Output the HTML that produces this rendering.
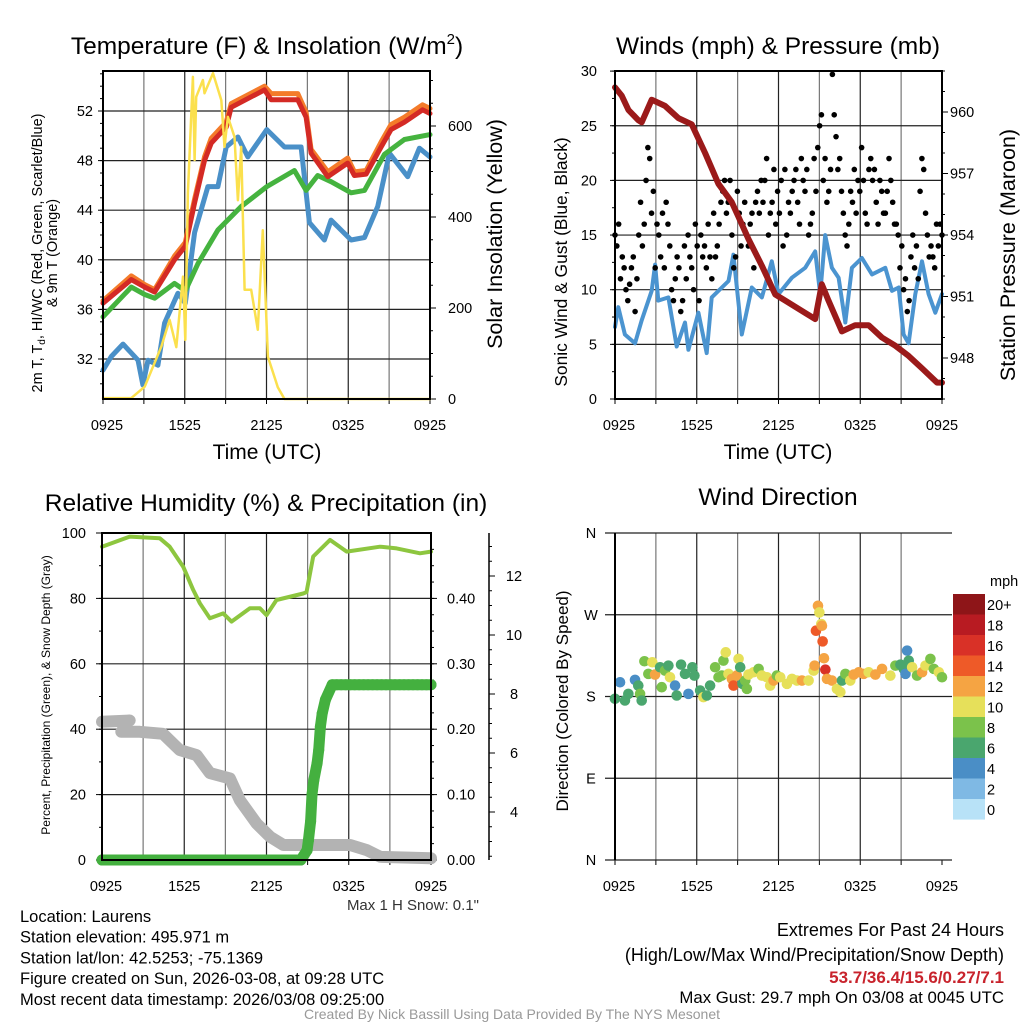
<!DOCTYPE html>
<html><head><meta charset="utf-8"><style>
html,body{margin:0;padding:0;background:#fff;}
svg{display:block;font-family:"Liberation Sans",Arial,sans-serif;}
</style></head><body>
<svg id="c" width="1024" height="1024" viewBox="0 0 1024 1024" xmlns="http://www.w3.org/2000/svg"></svg>
<script>
// ---------- DATA ----------
const xTickLabels = ["0925","1525","2125","0325","0925"];
// Panel 1: temperature (F) & insolation
const tTimes = [0,2.08,3.06,3.79,5.25,6.04,6.72,7.45,7.94,9.04,9.41,11.85,12.34,14.3,14.91,15.27,16.5,17.96,18.45,19.31,20.41,21.14,22.12,23.46,24];
const tempVals = [36.5,38.4,37.8,37.4,40,41.1,44.6,48,49.4,50.7,52.3,53.7,52.9,52.9,51.5,48.6,46.7,47.8,46.8,46.9,49.1,50.5,51.1,52.1,51.8];
const temp9Vals = [36.7,38.7,38.0,37.6,40.3,41.4,44.9,48.3,49.8,51.1,52.6,54.0,53.4,53.4,51.9,48.9,47.1,48.2,47.1,47.2,49.5,50.9,51.5,52.5,52.2];
const dTimes = [0,2.08,3.06,3.79,5.25,6.04,6.97,8.43,10.14,12.02,14.05,14.91,15.76,16.74,18.21,19.19,20.65,22.12,24];
const dewVals = [35.4,37.8,37.2,36.9,38.1,37.5,39.7,42.4,44.3,45.9,47.2,45.6,46.8,46.3,45.4,45.6,48.5,49.7,50.1];
const wcTimes = [0,0.61,1.47,2.57,2.93,3.3,4.03,4.52,5.5,6.04,6.72,7.7,8.43,9.04,9.9,10.63,12.02,13.32,14.54,15.15,16.25,16.74,18.21,19.19,20.16,21.02,22.36,23.22,24];
const wcVals = [31.1,32.2,33.2,31.9,29.9,31.9,31.5,34.9,37.3,36.5,42.2,45.9,45.9,49.1,49.9,48.3,50.5,49.1,49.1,43.0,41.6,43.2,41.6,41.8,44.3,48.6,46.7,49,48.3];
const solTimes = [0,2.08,3.06,4.28,4.89,5.38,5.87,6.04,6.23,6.6,6.72,6.84,7.33,7.45,8.07,8.68,8.92,9.17,9.65,9.9,10.14,10.39,10.88,11.36,11.73,12.1,12.83,13.32,24];
const solVals = [2,2,27,115,174,114,269,130,453,708,525,664,701,672,716,657,554,620,576,437,554,240,240,152,371,93,26,0,0];
// Panel 2: winds & pressure
const pTimes = [0,0.49,0.98,1.71,1.96,2.69,3.67,4.65,5.63,6.61,7.59,8.57,9.06,9.8,10.78,11.76,12.49,13.96,14.69,15.18,15.67,16.65,17.63,18.61,19.59,20.57,21.55,22.53,23.63,24];
const presVals = [961.2,960.8,960.1,959.6,959.5,960.6,960.3,959.7,959.4,958,956.5,955.6,954.9,953.8,952.5,951.1,950.8,950.2,949.9,951.6,950.8,949.3,949.6,949.6,949,948.6,948.1,947.5,946.8,946.8];
const wTimes = [0,0.24,0.73,1.47,1.96,2.69,2.94,3.18,3.92,4.53,5.14,5.39,6.12,6.73,7.1,8.33,8.69,9.31,10.04,10.78,11.51,12,12.98,13.96,14.69,15.06,15.43,15.92,16.41,16.9,17.39,18.12,18.86,19.84,20.33,20.82,21.18,21.55,22.04,22.53,23.02,23.51,24];
const windVals = [6.6,8.4,5.9,5.1,7.2,9.9,12.3,9.0,9.3,4.8,7.0,4.5,7.9,4.2,9.3,10.8,13.2,5.9,10.2,9.3,12.6,9.6,11.1,12.0,13.5,9.6,15.0,12.0,11.1,7.0,12.0,12.9,11.4,12.0,9.9,10.2,5.9,5.1,9.6,12.6,9.6,7.9,9.6];
const gustVals = [15,14,16,11,13,12,10,9,10.5,12,13,8,11,15,18,14,16,20,23,22,17,19,12,16,15,13,17,12,18,16,14,10,9,11,13,12,8,9,14,11,15,13,12,10,16,14,9,15,13,14,12,16,13,11,17,13,14,16,18,19,20,17,18,20,15,12,13,19,17,14,16,18,15,14,16,17,12,18,19,17,20,18,20,22,15,17,18,21,16,19,17,20,14,21,15,18,17,19,20,21,18,16,22,20,19,21,15,16,17,22,19,23,25,26,20,22,18,19,21,29.7,26,24,21,22,19,17,15,14,16,19,18,21,17,20,19,23,20,17,16,21,22,20,21,18,16,20,19,17,17,19,22,20,18,16,16,15,12,14,10,11,8,9,13,15,12,14,11,19,22,21,17,15,13,14,13,12,16,14,16,15];
// Panel 3: RH, precip, snow depth
const rhTimes = [0,2.02,4.21,4.94,5.92,6.65,7.14,7.87,8.84,9.45,10.79,11.52,12.0,12.73,14.68,14.92,15.41,16.63,17.85,20.28,21.5,23.2,24];
const rhVals = [95.8,98.9,98.4,95.8,89.7,82.6,78.5,73.9,75.4,72.9,77,77,74.9,79.5,81.5,81.9,92.8,97.9,94.3,95.8,95.3,93.8,94.3];
const prTimes = [0,14.5,14.96,15.06,15.22,15.32,15.45,15.69,15.81,15.93,16.06,16.3,16.79,24];
const precipVals = [0,0,0.015,0.03,0.059,0.10,0.122,0.148,0.168,0.204,0.224,0.245,0.268,0.268];
const snTimes = [0,2.02,1.41,2.75,4.45,5.67,6.9,7.87,9.33,10.06,11.28,12.26,13.23,18.1,19.32,20.3,24];
const snowVals = [7.06,7.1,6.72,6.72,6.65,6.1,5.93,5.32,5.14,4.4,3.61,3.16,2.88,2.88,2.71,2.48,2.43];
// Panel 4: wind direction (hours, degrees, mph)
const dirTimes = [0,0.37,0.73,0.98,1.47,1.71,1.84,1.96,2.16,2.45,2.74,2.94,3.31,3.43,3.67,3.92,4.04,4.41,4.53,4.85,5.14,5.39,5.68,5.83,6.25,6.49,6.74,6.98,7.35,7.6,7.84,7.96,8.13,8.33,8.58,8.7,8.94,9.07,9.19,9.36,9.56,9.68,9.8,10.17,10.54,10.78,11.15,11.39,11.64,11.88,12.13,12.62,12.99,13.35,13.72,14.21,14.58,14.65,14.75,14.9,15,15.14,15.19,15.24,15.34,15.44,15.56,15.92,16.29,16.54,16.66,16.91,17.27,17.52,17.89,18.25,18.62,19.11,19.6,20.21,20.58,20.95,21.19,21.44,21.32,21.56,21.81,22.17,22.54,22.79,23.15,23.4,23.77,24];
const dirVals = [177.5,195.7,175.6,182.9,198.3,192,182.9,175.6,218.8,204.9,217.7,204.1,212.2,190.2,208.5,214,201.2,192,181.1,215.1,204.9,182.9,212.2,203,186.6,179.3,181.1,192,212.2,201.2,203,219.5,228.6,204.9,199.4,192,203,221.4,212.2,193.9,197.6,188.4,204.1,206.7,210.4,203,201.2,192,197.6,203,201.2,193.9,199.4,197.6,197.6,197.6,208.5,214,252.4,279.9,272.5,259.8,257.9,240.7,222.1,209.6,199.4,197.6,188.4,184.8,197.6,204.9,197.6,204.1,206.7,204.9,206.7,204.1,210.4,203,214,215.1,210.4,230.5,204.9,219.5,212.2,203,206.7,214,221.4,210.4,206.7,201.2];
const dirSpd = [6,4,6,6,4,6,8,6,8,8,10,12,6,8,8,6,10,4,6,6,6,4,6,6,6,10,6,6,8,8,8,8,10,10,12,14,12,10,6,6,8,8,10,10,8,10,10,10,12,8,10,10,10,10,12,10,10,12,14,12,10,10,12,14,12,16,12,12,10,10,6,8,10,12,12,12,10,12,12,10,8,6,6,4,4,6,10,8,12,10,8,8,10,8];
const cbLabels = ["20+","18","16","14","12","10","8","6","4","2","0"];
const cbColors = ["#8e1518","#b81b22","#d93127","#ee5a28","#f5a443","#e6e05a","#7bc24b","#4aa66e","#4a8ec6","#7fb9e4","#b8e2f7"];

// ---------- DRAW ----------
const svg = document.getElementById('c');
const NS = "http://www.w3.org/2000/svg";
const TK = 14.5;
function mk(tag, attrs, parent){const e=document.createElementNS(NS,tag);for(const k in attrs)e.setAttribute(k,attrs[k]);(parent||svg).appendChild(e);return e;}
function txt(x,y,s,size,anchor,extra,parent){const t=mk('text',Object.assign({x:x,y:y,'font-size':size,'text-anchor':anchor||'middle',fill:'#000'},extra||{}),parent);t.textContent=s;return t;}

function panel(name,X0,X1,Y0,Y1){
  const g=mk('g',{});
  
  
  const xs=h=>X0+(h/24)*(X1-X0);
  for(let i=1;i<8;i++){const x=xs(i*3);const l=mk('line',{x1:x,x2:x,y1:Y0,y2:Y1,stroke:i%2?'#777':'#222','stroke-width':1.2},g);}
  for(let i=0;i<=8;i++){const x=xs(i*3);mk('line',{x1:x,x2:x,y1:Y1,y2:Y1+5,stroke:'#000','stroke-width':1},g);}
  xTickLabels.forEach((s,i)=>{const t=txt(xs(i*6)+(i==0?4:0),Y1+31,s,TK,'middle',{},g);});
  return {g,xs};
}
function hgrid(g,X0,X1,y){mk('line',{x1:X0,x2:X1,y1:y,y2:y,stroke:'#222','stroke-width':1.2},g);}
function frame(g,X0,X1,Y0,Y1){const r=mk('rect',{x:X0,y:Y0,width:X1-X0,height:Y1-Y0,fill:'none',stroke:'#000','stroke-width':2},g);}
function poly(g,times,vals,xs,ys,color,w,name){
  const pts=times.map((t,i)=>xs(t).toFixed(1)+','+ys(vals[i]).toFixed(1)).join(' ');
  const p=mk('polyline',{points:pts,fill:'none',stroke:color,'stroke-width':w,'stroke-linejoin':'round','stroke-linecap':'round'},g);
  
  
  return p;
}

// ===== Panel 1 =====
(function(){
  const X0=103,X1=430,Y0=71,Y1=399;
  const {g,xs}=panel('temperature-panel',X0,X1,Y0,Y1);
  const yL=v=>111+(52-v)*12.4, yR=v=>399-v*0.455;
  [32,36,40,44,48,52].forEach(v=>{hgrid(g,X0,X1,yL(v));txt(93,yL(v)+5,String(v),TK,'end',{},g);mk('line',{x1:X0-5,x2:X0,y1:yL(v),y2:yL(v),stroke:'#000'},g);});
  for(let v=30;v<=55;v++){mk('line',{x1:X0-3,x2:X0,y1:yL(v),y2:yL(v),stroke:'#000'},g);}
  [0,200,400,600].forEach(v=>{txt(448,yR(v)+5,String(v),TK,'start',{},g);mk('line',{x1:X1,x2:X1+6,y1:yR(v),y2:yR(v),stroke:'#000'},g);});
  for(let v=0;v<=700;v+=50){mk('line',{x1:X1,x2:X1+3,y1:yR(v),y2:yR(v),stroke:'#000'},g);}
  poly(g,wcTimes,wcVals,xs,yL,'#4a90c8',5,'windchill-line');
  poly(g,dTimes,dewVals,xs,yL,'#45b33f',5,'dewpoint-line');
  poly(g,tTimes,temp9Vals,xs,yL,'#f47b2a',5,'temp-9m-line');
  poly(g,tTimes,tempVals,xs,yL,'#d42a25',5,'temp-2m-line');
  poly(g,solTimes,solVals,xs,yR,'#fbe04d',2.5,'insolation-line');
  frame(g,X0,X1,Y0,Y1);
  const t=txt(267,54,'',24.5,'middle',{},g);
  t.innerHTML='Temperature (F) &amp; Insolation (W/m<tspan dy="-10" font-size="15">2</tspan><tspan dy="10">)</tspan>';
  const xl=txt(267,459,'Time (UTC)',21,'middle',{},g);
  const yl=txt(0,0,'',14.5,'middle',{transform:'translate(42,253) rotate(-90)'},g);
  yl.innerHTML='2m T, T<tspan dy="3" font-size="10">d</tspan><tspan dy="-3">, HI/WC (Red, Green, Scarlet/Blue)</tspan>';
  const yl2=txt(0,0,'& 9m T (Orange)',14.5,'middle',{transform:'translate(57,253) rotate(-90)'},g);
  const yr=txt(0,0,'Solar Insolation (Yellow)',21.5,'middle',{transform:'translate(502,234) rotate(-90)'},g);
})();

// ===== Panel 2 =====
(function(){
  const X0=615,X1=942,Y0=71,Y1=399;
  const {g,xs}=panel('winds-panel',X0,X1,Y0,Y1);
  const yL=v=>399-v*10.93, yR=v=>112+(960-v)*20.5;
  [0,5,10,15,20,25,30].forEach(v=>{if(v>0&&v<30)hgrid(g,X0,X1,yL(v));txt(597,yL(v)+5,String(v),TK,'end',{},g);mk('line',{x1:X0-5,x2:X0,y1:yL(v),y2:yL(v),stroke:'#000'},g);});
  for(let v=0;v<=30;v+=2.5){mk('line',{x1:X0-3,x2:X0,y1:yL(v),y2:yL(v),stroke:'#000'},g);}
  [948,951,954,957,960].forEach(v=>{txt(950,yR(v)+5,String(v),TK,'start',{},g);mk('line',{x1:X1,x2:X1+6,y1:yR(v),y2:yR(v),stroke:'#000'},g);});
  for(let v=946;v<=962;v++){mk('line',{x1:X1,x2:X1+3,y1:yR(v),y2:yR(v),stroke:'#000'},g);}
  poly(g,wTimes,windVals,xs,yL,'#4b94d0',4,'sonic-wind-line');
  const n=gustVals.length;
  gustVals.forEach((v,i)=>{const c=mk('circle',{cx:xs(i/(n-1)*24),cy:yL(v),r:2.8,fill:'#000'},g);});
  poly(g,pTimes,presVals,xs,yR,'#9b1a1a',6,'pressure-line');
  frame(g,X0,X1,Y0,Y1);
  const t=txt(778,54,'Winds (mph) & Pressure (mb)',24.5,'middle',{},g);
  const xl=txt(778,459,'Time (UTC)',21,'middle',{},g);
  const yl=txt(0,0,'Sonic Wind & Gust (Blue, Black)',17.4,'middle',{transform:'translate(567,262) rotate(-90)'},g);
  const yr=txt(0,0,'Station Pressure (Maroon)',21.5,'middle',{transform:'translate(1015,255) rotate(-90)'},g);
})();

// ===== Panel 3 =====
(function(){
  const X0=102,X1=431,Y0=533,Y1=860;
  const {g,xs}=panel('humidity-panel',X0,X1,Y0,Y1);
  const yL=v=>860-v*3.27, yP=v=>860-v*654, yS=v=>812-(v-4)*29.5;
  [0,20,40,60,80,100].forEach(v=>{if(v>0&&v<100)hgrid(g,X0,X1,yL(v));txt(86,yL(v)+5,String(v),TK,'end',{},g);mk('line',{x1:X0-6,x2:X0,y1:yL(v),y2:yL(v),stroke:'#000'},g);});
  for(let v=0;v<=100;v+=10){mk('line',{x1:X0-3,x2:X0,y1:yL(v),y2:yL(v),stroke:'#000'},g);}
  [0,0.1,0.2,0.3,0.4].forEach(v=>{txt(447,yP(v)+5,v.toFixed(2),TK,'start',{},g);mk('line',{x1:X1,x2:X1+6,y1:yP(v),y2:yP(v),stroke:'#000'},g);});
  for(let v=0;v<=0.5;v+=0.025){mk('line',{x1:X1,x2:X1+3,y1:yP(v),y2:yP(v),stroke:'#000'},g);}
  const sa=mk('line',{x1:489,x2:489,y1:533,y2:860,stroke:'#000','stroke-width':1.5},g);
  [4,6,8,10,12].forEach(v=>{txt(514,yS(v)+5,String(v),TK,'middle',{},g);mk('line',{x1:489,x2:495,y1:yS(v),y2:yS(v),stroke:'#000'},g);});
  for(let v=2.5;v<=13;v+=0.5){mk('line',{x1:489,x2:492,y1:yS(v),y2:yS(v),stroke:'#000'},g);}
  poly(g,snTimes.slice(0,2),snowVals.slice(0,2),xs,yS,'#b3b3b3',12,'snow-depth-start');
  poly(g,snTimes.slice(2),snowVals.slice(2),xs,yS,'#b3b3b3',12,'snow-depth-line');
  poly(g,rhTimes,rhVals,xs,yL,'#8dc63f',4,'rh-line');
  const pts=[];for(let i=0;i<prTimes.length-1;i++){const a=prTimes[i],b=prTimes[i+1];const k=Math.max(1,Math.round((b-a)*3));for(let j=0;j<k;j++){const f=j/k;pts.push([a+(b-a)*f,precipVals[i]+(precipVals[i+1]-precipVals[i])*f]);}}
  pts.push([prTimes[prTimes.length-1],precipVals[precipVals.length-1]]);
  pts.forEach(p=>{const c=mk('circle',{cx:xs(p[0]),cy:yP(p[1]),r:5.5,fill:'#44b03f'},g);});
  poly(g,prTimes,precipVals,xs,yP,'#44b03f',11,'precip-line');
  frame(g,X0,X1,Y0,Y1);
  const t=txt(266,511,'Relative Humidity (%) & Precipitation (in)',24.5,'middle',{},g);
  const yl=txt(0,0,'Percent, Precipitation (Green), & Snow Depth (Gray)',12,'middle',{transform:'translate(50,695) rotate(-90)'},g);
  const sn=txt(479,910,'Max 1 H Snow: 0.1"',15,'end',{fill:'#333'},g);
})();

// ===== Panel 4 =====
(function(){
  const X0=615,X1=942,Y0=533,Y1=860;
  const {g,xs}=panel('wind-direction-panel',X0,X1,Y0,Y1);
  const yD=v=>860-v*(327/360);
  [[0,'N'],[90,'E'],[180,'S'],[270,'W'],[360,'N']].forEach(d=>{mk('line',{x1:X0-10,x2:X1+10,y1:yD(d[0]),y2:yD(d[0]),stroke:'#222','stroke-width':1.2},g);txt(591,yD(d[0])+5,d[1],TK,'middle',{},g);});
  const col=s=>cbColors[Math.max(0,10-Math.min(10,Math.floor(s/2)))];
  dirTimes.forEach((h,i)=>{const c=mk('circle',{cx:xs(h),cy:yD(dirVals[i]),r:5.3,fill:col(dirSpd[i])},g);});
  mk('line',{x1:X0,x2:X0,y1:Y0,y2:Y1,stroke:'#000','stroke-width':2},g);
  const t=txt(778,505,'Wind Direction',24.5,'middle',{},g);
  const yl=txt(0,0,'Direction (Colored By Speed)',17,'middle',{transform:'translate(568,701) rotate(-90)'},g);
  const cb=mk('g',{},g);
  cbColors.forEach((c,i)=>{mk('rect',{x:953,y:594+i*20.5,width:32,height:20.6,fill:c},cb);const l=txt(987,594+i*20.5+16,cbLabels[i],14.5,'start',{},cb);});
  txt(990,586,'mph',14.5,'start',{},cb);
})();

// ===== Footer text =====
const info=["Location: Laurens","Station elevation: 495.971 m","Station lat/lon: 42.5253; -75.1369","Figure created on Sun, 2026-03-08, at 09:28 UTC","Most recent data timestamp: 2026/03/08 09:25:00"];
info.forEach((s,i)=>{const t=txt(20,922+i*20.7,s,16.5,'start');});
let t1=txt(1004,936,'Extremes For Past 24 Hours',18,'end');
let t2=txt(1004,961,'(High/Low/Max Wind/Precipitation/Snow Depth)',18,'end');
let t3=txt(1004,983,'53.7/36.4/15.6/0.27/7.1',17,'end',{fill:'#c8232c','font-weight':'bold'});
let t4=txt(1004,1003,'Max Gust: 29.7 mph On 03/08 at 0045 UTC',16.8,'end');
let t5=txt(512,1019,'Created By Nick Bassill Using Data Provided By The NYS Mesonet',14,'middle',{fill:'#999'});
</script>
</body></html>
